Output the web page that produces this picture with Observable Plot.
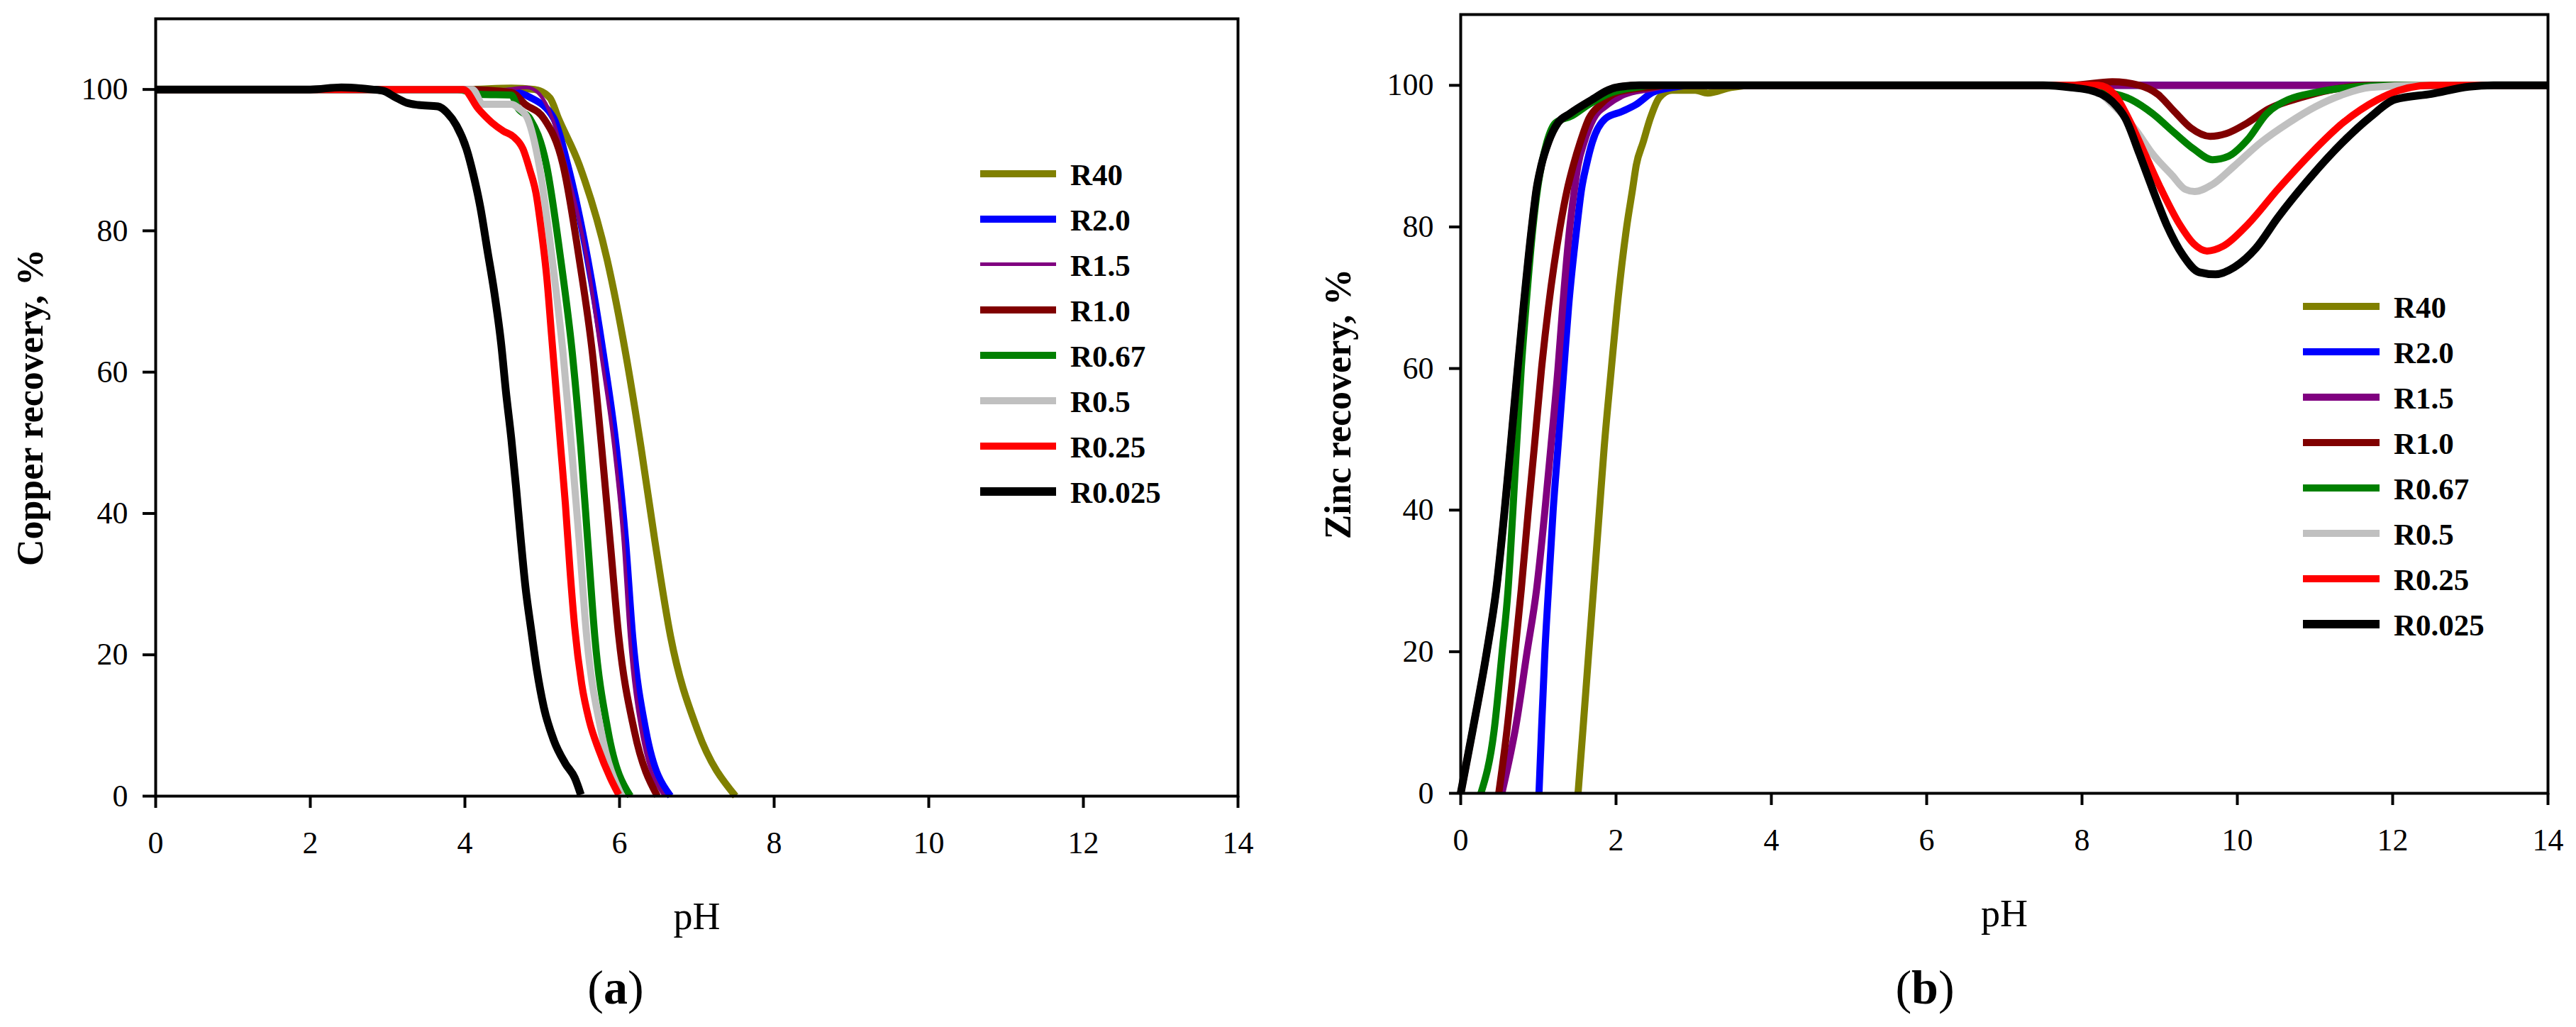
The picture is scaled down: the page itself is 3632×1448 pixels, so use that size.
<!DOCTYPE html>
<html><head><meta charset="utf-8">
<script src="https://cdn.jsdelivr.net/npm/d3@7"></script>
<script src="https://cdn.jsdelivr.net/npm/@observablehq/plot@0.6"></script>
<style>
body{margin:0;background:#fff;}
#wrap{position:relative;width:3632px;height:1448px;background:#fff;font-family:"Liberation Serif",serif;color:#000;overflow:hidden;}
#wrap svg text{font-family:"Liberation Serif",serif;}
.sw{position:absolute;}
.lt{position:absolute;font-weight:bold;font-size:43px;line-height:64px;height:64px;white-space:nowrap;}
.cap{position:absolute;font-size:68px;line-height:68px;transform:translateX(-50%);white-space:nowrap;}
</style></head><body><div id="wrap"></div>
<script>
// ---------- shared ----------
const seriesNames  = ["R40", "R2.0", "R1.5", "R1.0", "R0.67", "R0.5", "R0.25", "R0.025"];
const seriesColors = ["#808000", "#0000ff", "#800080", "#800000", "#008000", "#c0c0c0", "#ff0000", "#000000"];
const xTicks = [0, 2, 4, 6, 8, 10, 12, 14];
const yTicks = [0, 20, 40, 60, 80, 100];

// ---------- (a) Copper recovery ----------
const cuR40_pH  = [0, 4.0, 4.6, 4.9, 5.1, 5.21, 5.48, 5.84, 6.08, 6.28, 6.46, 6.66, 7.01, 7.5];
const cuR40_val = [100, 100, 100.2, 100, 98.8, 95.9, 89.3, 75.9, 62.6, 49.2, 35.9, 22.6, 9.3, 0];
const cuR20_pH  = [0, 4.0, 4.3, 4.66, 4.84, 5.15, 5.33, 5.59, 5.79, 5.96, 6.08, 6.17, 6.34, 6.66];
const cuR20_val = [100, 100, 99.7, 99.6, 98.9, 95.9, 89.3, 75.9, 62.6, 49.2, 35.9, 22.6, 9.3, 0];
const cuR15_pH  = [0, 4.5, 4.8, 4.95, 5.13, 5.30, 5.58, 5.76, 5.93, 6.05, 6.13, 6.28, 6.58];
const cuR15_val = [100, 100, 100.3, 99.5, 95.9, 89.3, 75.9, 62.6, 49.2, 35.9, 22.6, 9.3, 0];
const cuR10_pH  = [0, 4.0, 4.6, 4.78, 5.02, 5.27, 5.48, 5.65, 5.77, 5.88, 5.99, 6.19, 6.49];
const cuR10_val = [100, 100, 99.6, 97.9, 95.9, 89.3, 75.9, 62.6, 49.2, 35.9, 22.6, 9.3, 0];
const cuR067_pH  = [0, 3.9, 4.2, 4.6, 4.69, 4.84, 5.055, 5.24, 5.39, 5.50, 5.59, 5.68, 5.85, 6.14];
const cuR067_val = [100, 100, 99.3, 99.2, 97.3, 95.9, 89.3, 75.9, 62.6, 49.2, 35.9, 22.6, 9.3, 0];
const cuR05_pH  = [0, 4.1, 4.23, 4.6, 4.70, 4.81, 4.96, 5.13, 5.27, 5.38, 5.48, 5.575, 5.76, 6.03];
const cuR05_val = [100, 100, 97.9, 97.9, 97.3, 95.9, 89.3, 75.9, 62.6, 49.2, 35.9, 22.6, 9.3, 0];
const cuR025_pH  = [0, 3.98, 4.17, 4.35, 4.50, 4.63, 4.75, 4.84, 4.92, 4.99, 5.06, 5.12, 5.18, 5.24, 5.30, 5.36, 5.42, 5.51, 5.61, 5.73, 5.88, 5.99];
const cuR025_val = [100, 100, 97.3, 95.3, 94.1, 93.3, 91.6, 88.6, 85.3, 79.9, 73.3, 65.3, 57.3, 49.2, 41.3, 31.9, 23.9, 15.9, 10.6, 6.6, 2.6, 0.2];
const cuR0025_pH  = [0, 2.0, 2.4, 2.8, 2.945, 3.10, 3.25, 3.40, 3.65, 3.77, 3.89, 4.02, 4.11, 4.20, 4.29, 4.38, 4.47, 4.53, 4.60, 4.66, 4.72, 4.78, 4.86, 4.93, 5.02, 5.15, 5.30, 5.42, 5.50];
const cuR0025_val = [100, 100, 100.3, 100, 99.8, 98.9, 98.1, 97.8, 97.6, 96.7, 94.9, 91.6, 87.9, 83.3, 77.3, 71.3, 63.9, 57.3, 50.6, 43.9, 36.6, 29.9, 23.3, 17.9, 12.6, 7.9, 4.6, 2.6, 0.2];

// ---------- (b) Zinc recovery ----------
const znR40_pH  = [1.511, 1.573, 1.649, 1.71, 1.786, 1.847, 1.939, 2.015, 2.137, 2.214, 2.26, 2.35, 2.44, 2.56, 2.72, 3.02, 3.18, 3.48, 3.8, 14];
const znR40_val = [0, 8.85, 20, 28.8, 39.9, 48.8, 59.9, 68.7, 80.0, 85.4, 88.7, 92.0, 95.3, 98.3, 99.3, 99.3, 98.9, 99.7, 100, 100];
const znR20_pH  = [1.008, 1.04, 1.084, 1.13, 1.19, 1.252, 1.328, 1.389, 1.496, 1.557, 1.618, 1.695, 1.863, 2.076, 2.26, 2.47, 2.72, 3.0, 14];
const znR20_val = [0, 8.85, 20, 28.8, 39.9, 48.8, 59.9, 68.7, 80.0, 85.4, 88.7, 92.0, 95.3, 96.3, 97.3, 99.0, 99.7, 100, 100];
const znR15_pH  = [0.53, 0.64, 0.70, 0.855, 0.977, 1.084, 1.16, 1.252, 1.313, 1.405, 1.466, 1.51, 1.59, 1.71, 1.89, 2.1, 2.41, 2.7, 14];
const znR15_val = [0, 5.5, 8.85, 20, 28.8, 39.9, 48.8, 59.9, 68.7, 80.0, 85.4, 88.7, 92.0, 95.3, 97.3, 98.7, 99.5, 100, 100];
const znR10_pH  = [0.49, 0.595, 0.70, 0.78, 0.87, 0.947, 1.04, 1.13, 1.28, 1.374, 1.45, 1.54, 1.65, 1.80, 2.015, 2.41, 2.7, 7.86, 8.39, 8.74, 8.98, 9.19, 9.40, 9.65, 9.86, 10.13, 10.41, 10.83, 11.18, 11.71, 14];
const znR10_val = [0, 8.85, 20, 28.8, 39.9, 48.8, 59.9, 68.7, 80.0, 85.4, 88.7, 92.0, 95.3, 97.3, 99.0, 99.7, 100, 100, 100.5, 100, 98.7, 96.3, 94.0, 92.8, 93.2, 94.7, 96.7, 98.3, 99.3, 100, 100];
const znR067_pH  = [0.26, 0.43, 0.534, 0.61, 0.672, 0.718, 0.779, 0.84, 0.931, 0.99, 1.04, 1.11, 1.22, 1.435, 1.65, 1.95, 2.26, 2.5, 7.86, 8.21, 8.63, 8.91, 9.19, 9.44, 9.68, 9.89, 10.13, 10.38, 10.66, 11.01, 11.53, 11.88, 14];
const znR067_val = [0, 8.85, 20, 28.8, 39.9, 48.8, 59.9, 68.7, 80.0, 85.4, 88.7, 92.0, 94.7, 95.7, 97.3, 99.0, 99.7, 100, 100, 99.3, 98.0, 96.0, 93.3, 91.0, 89.5, 90.0, 92.3, 96.0, 98.0, 99.0, 99.8, 100, 100];
const znR05_pH  = [0, 0.153, 0.336, 0.458, 0.565, 0.641, 0.733, 0.809, 0.916, 0.977, 1.038, 1.13, 1.252, 1.405, 1.649, 2.0, 2.3, 7.86, 8.21, 8.42, 8.70, 8.91, 9.16, 9.33, 9.45, 9.68, 9.96, 10.31, 10.66, 11.01, 11.36, 11.71, 12.34, 14];
const znR05_val = [0, 8.85, 20, 28.8, 39.9, 48.8, 59.9, 68.7, 80.0, 85.4, 88.7, 92.0, 94.7, 96.0, 97.7, 99.7, 100, 100, 99.0, 97.0, 93.6, 90.3, 87.3, 85.3, 85.0, 86.0, 88.6, 92.0, 94.7, 97.0, 98.7, 99.7, 100, 100];
const znR025_pH  = [0, 0.153, 0.336, 0.458, 0.565, 0.641, 0.733, 0.809, 0.916, 0.977, 1.038, 1.13, 1.252, 1.405, 1.649, 2.0, 2.3, 7.86, 8.21, 8.42, 8.60, 8.81, 9.02, 9.26, 9.44, 9.61, 9.82, 10.13, 10.52, 10.94, 11.36, 11.81, 11.94, 12.49, 14];
const znR025_val = [0, 8.85, 20, 28.8, 39.9, 48.8, 59.9, 68.7, 80.0, 85.4, 88.7, 92.0, 94.7, 96.0, 97.7, 99.7, 100, 100, 100, 98.7, 95.3, 90.3, 85.3, 80.3, 77.6, 76.6, 77.3, 80.3, 85.3, 90.3, 94.7, 98.0, 98.7, 100, 100];
const znR0025_pH  = [0, 0.153, 0.336, 0.458, 0.565, 0.641, 0.733, 0.809, 0.916, 0.977, 1.038, 1.13, 1.252, 1.405, 1.649, 2.0, 2.3, 7.5, 7.86, 8.14, 8.39, 8.56, 8.74, 8.91, 9.09, 9.30, 9.51, 9.72, 9.96, 10.24, 10.52, 10.94, 11.36, 11.71, 12.03, 12.5, 12.98, 13.3, 14];
const znR0025_val = [0, 8.85, 20, 28.8, 39.9, 48.8, 59.9, 68.7, 80.0, 85.4, 88.7, 92.0, 94.7, 96.0, 97.7, 99.7, 100, 100, 99.7, 99.2, 97.7, 95.3, 90.3, 85.3, 80.3, 76.0, 73.6, 73.3, 74.3, 77.0, 81.3, 87.0, 92.0, 95.5, 98.0, 98.8, 99.8, 100, 100];

// ---------- build ----------
const cuSeries = [[cuR40_pH, cuR40_val], [cuR20_pH, cuR20_val], [cuR15_pH, cuR15_val], [cuR10_pH, cuR10_val],
                  [cuR067_pH, cuR067_val], [cuR05_pH, cuR05_val], [cuR025_pH, cuR025_val], [cuR0025_pH, cuR0025_val]];
const znSeries = [[znR40_pH, znR40_val], [znR20_pH, znR20_val], [znR15_pH, znR15_val], [znR10_pH, znR10_val],
                  [znR067_pH, znR067_val], [znR05_pH, znR05_val], [znR025_pH, znR025_val], [znR0025_pH, znR0025_val]];

function rowsOf(pair, name) {
  return pair[0].map((p, i) => ({pH: p, val: pair[1][i], series: name}));
}

const FONT = "Liberation Serif, serif";

function makePanel(opt) {
  const lineMarks = opt.series.map((pair, i) =>
    Plot.line(rowsOf(pair, seriesNames[i]), {
      x: "pH", y: "val", stroke: seriesColors[i],
      strokeWidth: opt.widths[i], curve: "monotone-x",
      strokeLinecap: "butt", strokeLinejoin: "round"
    })
  );
  const svg = Plot.plot({
    width: 1816, height: 1340,
    marginLeft: opt.ml, marginRight: opt.mr, marginTop: opt.mt, marginBottom: opt.mb,
    style: "font-family:'Liberation Serif',serif;font-size:44px;color:#000;background:#fff;overflow:visible;",
    x: {domain: [0, 14]},
    y: {domain: [0, 110]},
    marks: [
      ...lineMarks,
      Plot.frame({strokeWidth: 4}),
      Plot.axisX({ticks: xTicks, tickSize: 17, tickPadding: 32, strokeWidth: 4, label: null, fontSize: 44, fontFamily: FONT}),
      Plot.axisY({ticks: yTicks, tickSize: opt.ytick, tickPadding: opt.ypad, strokeWidth: 4, label: null, fontSize: 44, fontFamily: FONT}),
      Plot.text(["pH"], {text: d => d, frameAnchor: "bottom", lineAnchor: "middle", textAnchor: "middle", dy: 170, fontSize: 54, fontFamily: FONT}),
      Plot.text([opt.ylabel], {text: d => d, frameAnchor: "left", textAnchor: "middle", lineAnchor: "middle", dx: opt.ylabelDx, rotate: -90, fontSize: 52, fontWeight: "bold", fontFamily: FONT})
    ]
  });
  d3.select(svg).selectAll("text, g").style("font-family", "'Liberation Serif', serif").style("font-variant", "normal");
  return svg;
}

const wrap = document.getElementById("wrap");

const left = makePanel({
  series: cuSeries, widths: [10, 10, 5, 10, 10, 10, 10, 11],
  ml: 219, mr: 71, mt: 26, mb: 1340 - 1122, ytick: 18, ypad: 21,
  ylabel: "Copper recovery, %", ylabelDx: -176
});
left.style.position = "absolute"; left.style.left = "0px"; left.style.top = "0px";
wrap.appendChild(left);

const right = makePanel({
  series: znSeries, widths: [10, 10, 10, 10, 10, 10, 10, 11],
  ml: 243, mr: 40, mt: 20, mb: 1340 - 1118, ytick: 16, ypad: 22,
  ylabel: "Zinc recovery, %", ylabelDx: -172
});
right.style.position = "absolute"; right.style.left = "1816px"; right.style.top = "0px";
wrap.appendChild(right);

// ---------- legends ----------
function legend(swX, swW, textX, y0, heights) {
  seriesNames.forEach((name, i) => {
    const cy = y0 + 64 * i;
    const sw = document.createElement("div");
    sw.className = "sw";
    sw.style.left = swX + "px"; sw.style.width = swW + "px";
    sw.style.top = (cy - heights[i] / 2) + "px"; sw.style.height = heights[i] + "px";
    sw.style.background = seriesColors[i];
    wrap.appendChild(sw);
    const t = document.createElement("div");
    t.className = "lt";
    t.style.left = textX + "px"; t.style.top = (cy - 30) + "px";
    t.textContent = name;
    wrap.appendChild(t);
  });
}
legend(1382, 107, 1509, 244.7, [10, 10, 5, 10, 10, 10, 10, 12]);
legend(3247, 108, 3375, 432, [10, 10, 10, 10, 10, 10, 10, 12]);

// ---------- captions ----------
function caption(cx, letter) {
  const c = document.createElement("div");
  c.className = "cap";
  c.style.left = cx + "px"; c.style.top = "1358px";
  c.innerHTML = "(<b>" + letter + "</b>)";
  wrap.appendChild(c);
}
caption(868, "a");
caption(2714, "b");
</script></body></html>
